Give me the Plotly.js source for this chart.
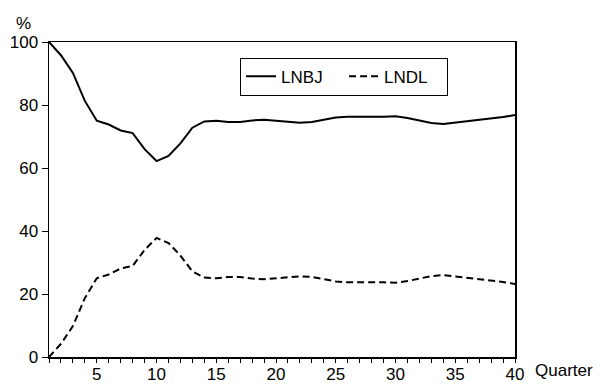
<!DOCTYPE html>
<html>
<head>
<meta charset="utf-8">
<script src="https://cdn.plot.ly/plotly-3.0.1.min.js"></script>
<style>html,body{margin:0;padding:0;background:#fff;}#chart{width:601px;height:385px;}</style>
</head>
<body>
<div id="chart"></div>
<script>
const quarters = [1,2,3,4,5,6,7,8,9,10,11,12,13,14,15,16,17,18,19,20,21,22,23,24,25,26,27,28,29,30,31,32,33,34,35,36,37,38,39,40];
const lnbj = [100,95.8,90.2,81.3,75,73.8,71.9,71.1,66,62.2,63.8,67.8,72.8,74.8,75,74.6,74.6,75.1,75.3,75.1,74.7,74.4,74.6,75.3,76,76.3,76.2,76.3,76.3,76.4,75.9,75.1,74.3,74,74.4,74.9,75.3,75.7,76.2,76.8];
const lndl = [0,4.2,9.8,18.7,25,26.2,28.1,28.9,34,37.8,36.2,32.2,27.2,25.2,25,25.4,25.4,24.9,24.7,24.9,25.3,25.6,25.4,24.7,24,23.7,23.8,23.7,23.7,23.6,24.1,24.9,25.7,26,25.6,25.1,24.7,24.3,23.8,23.2];
const seriesNames = ['LNBJ','LNDL'];
const yTicks = [0,20,40,60,80,100];
const xTicks = [5,10,15,20,25,30,35,40];

const font = {family:'"Liberation Sans", Arial, sans-serif', size:17, color:'#000'};
const traces = [
  {x:quarters, y:lnbj, name:seriesNames[0], mode:'lines', line:{color:'#000', width:2}},
  {x:quarters, y:lndl, name:seriesNames[1], mode:'lines', line:{color:'#000', width:2, dash:'7px,4px'}}
];
const layout = {
  width:601, height:385,
  margin:{l:49, r:86, t:42, b:28},
  paper_bgcolor:'#fff', plot_bgcolor:'#fff',
  font:font,
  showlegend:true,
  legend:{orientation:'h', x:0.41, y:0.95, xanchor:'left', yanchor:'top',
          bordercolor:'#000', borderwidth:1, bgcolor:'#fff', font:font,
          itemwidth:30, traceorder:'normal', entrywidth:58, entrywidthmode:'pixels'},
  xaxis:{range:[1,40], tickvals:xTicks, ticks:'outside', ticklen:4, tickcolor:'#000', tickwidth:1,
         showgrid:false, zeroline:false, showline:true, linecolor:'#000', linewidth:1.5, mirror:true,
         tickfont:font, ticklabelstandoff:-3,
         minor:{dtick:1, tick0:0, ticks:'outside', ticklen:4, tickcolor:'#000', showgrid:false}},
  yaxis:{range:[0,100], tickvals:yTicks, ticks:'outside', ticklen:6, tickcolor:'#000', tickwidth:1,
         showgrid:false, zeroline:false, showline:true, linecolor:'#000', linewidth:1.5, mirror:true,
         tickfont:font, ticklabelstandoff:0},
  annotations:[
    {text:'%', xref:'paper', yref:'paper', x:-0.035, y:1.0, xanchor:'right', yanchor:'bottom', showarrow:false, font:font, yshift:7},
    {text:'Quarter', xref:'paper', yref:'paper', x:1.0, y:0, xanchor:'left', yanchor:'top', showarrow:false, font:font, xshift:18, yshift:-2}
  ]
};
Plotly.newPlot('chart', traces, layout, {displayModeBar:false, staticPlot:true});
</script>
</body>
</html>
